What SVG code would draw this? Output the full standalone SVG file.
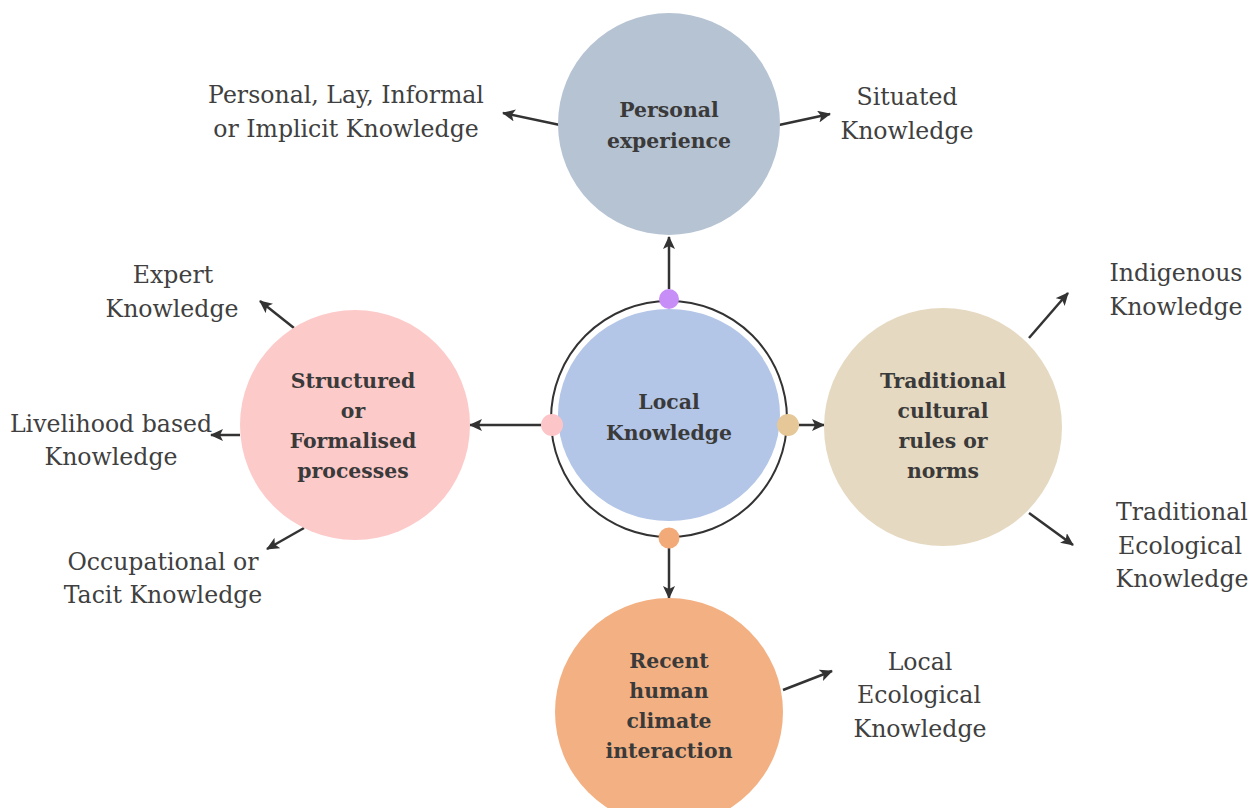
<svg xmlns="http://www.w3.org/2000/svg" width="1258" height="808" viewBox="0 0 1258 808">
<style>
.lbl{font-family:"DejaVu Serif","Liberation Serif",serif;font-size:23.6px;fill:#404040;text-anchor:middle}
.bold{font-family:"DejaVu Serif","Liberation Serif",serif;font-size:20.4px;font-weight:bold;fill:#3a3a3a;text-anchor:middle}
.conn{stroke:#333;stroke-width:2.5;fill:none;marker-end:url(#ah)}
</style>
<defs>
<marker id="ah" markerUnits="userSpaceOnUse" markerWidth="14" markerHeight="12" refX="12" refY="6" orient="auto">
<path d="M0,0 L13,6 L0,12 L3,6 Z" fill="#333"/>
</marker>
</defs>
<rect width="1258" height="808" fill="#fff"/>
<g id="connectors">
<line class="conn" x1="669" y1="289" x2="669" y2="237"/>
<line class="conn" x1="541" y1="425" x2="470" y2="425"/>
<line class="conn" x1="799" y1="425" x2="824" y2="425"/>
<line class="conn" x1="669" y1="548" x2="669" y2="598"/>
<line class="conn" x1="560" y1="125" x2="503" y2="113"/>
<line class="conn" x1="779" y1="125" x2="830" y2="114"/>
<line class="conn" x1="294" y1="328" x2="260" y2="301"/>
<line class="conn" x1="240" y1="435" x2="211" y2="435"/>
<line class="conn" x1="304" y1="528" x2="267" y2="549"/>
<line class="conn" x1="1029" y1="338" x2="1068" y2="293"/>
<line class="conn" x1="1029" y1="513" x2="1073" y2="545"/>
<line class="conn" x1="783" y1="690" x2="832" y2="671"/>
</g>
<g id="local-knowledge">
<circle cx="669" cy="419" r="118" fill="none" stroke="#333" stroke-width="2"/>
<ellipse cx="669" cy="415" rx="111" ry="106" fill="#b3c6e7"/>
<text class="bold" x="669" y="409">Local</text>
<text class="bold" x="669" y="440">Knowledge</text>
<circle cx="669" cy="299" r="10" fill="#c78ef7"/>
<circle cx="552" cy="425" r="11" fill="#fcc5c8"/>
<circle cx="788" cy="425" r="11" fill="#e6c797"/>
<circle cx="669" cy="538" r="10.5" fill="#f3aa79"/>
</g>
<g id="personal-experience">
<circle cx="669" cy="124" r="111" fill="#b6c3d3"/>
<text class="bold" x="669" y="117">Personal</text>
<text class="bold" x="669" y="148">experience</text>
</g>
<g id="structured">
<circle cx="355" cy="425" r="115" fill="#fdcaca"/>
<text class="bold" x="353" y="388">Structured</text>
<text class="bold" x="353" y="418">or</text>
<text class="bold" x="353" y="448">Formalised</text>
<text class="bold" x="353" y="478">processes</text>
</g>
<g id="traditional">
<circle cx="943" cy="427" r="119" fill="#e6d9c1"/>
<text class="bold" x="943" y="388">Traditional</text>
<text class="bold" x="943" y="418">cultural</text>
<text class="bold" x="943" y="448">rules or</text>
<text class="bold" x="943" y="478">norms</text>
</g>
<g id="recent">
<circle cx="669" cy="712" r="114" fill="#f3b183"/>
<text class="bold" x="669" y="668">Recent</text>
<text class="bold" x="669" y="698">human</text>
<text class="bold" x="669" y="728">climate</text>
<text class="bold" x="669" y="758">interaction</text>
</g>
<g id="lbl-personal-lay">
<text class="lbl" x="346" y="103">Personal, Lay, Informal</text>
<text class="lbl" x="346" y="137">or Implicit Knowledge</text>
</g>
<g id="lbl-situated">
<text class="lbl" x="907" y="105">Situated</text>
<text class="lbl" x="907" y="139">Knowledge</text>
</g>
<g id="lbl-expert">
<text class="lbl" x="173" y="283">Expert</text>
<text class="lbl" x="172" y="317">Knowledge</text>
</g>
<g id="lbl-livelihood">
<text class="lbl" x="111" y="432">Livelihood based</text>
<text class="lbl" x="111" y="465">Knowledge</text>
</g>
<g id="lbl-occupational">
<text class="lbl" x="163" y="570">Occupational or</text>
<text class="lbl" x="163" y="603">Tacit Knowledge</text>
</g>
<g id="lbl-indigenous">
<text class="lbl" x="1176" y="281">Indigenous</text>
<text class="lbl" x="1176" y="315">Knowledge</text>
</g>
<g id="lbl-tek">
<text class="lbl" x="1182" y="520">Traditional</text>
<text class="lbl" x="1180" y="554">Ecological</text>
<text class="lbl" x="1182" y="587">Knowledge</text>
</g>
<g id="lbl-lek">
<text class="lbl" x="920" y="670">Local</text>
<text class="lbl" x="919" y="703">Ecological</text>
<text class="lbl" x="920" y="737">Knowledge</text>
</g>
</svg>
